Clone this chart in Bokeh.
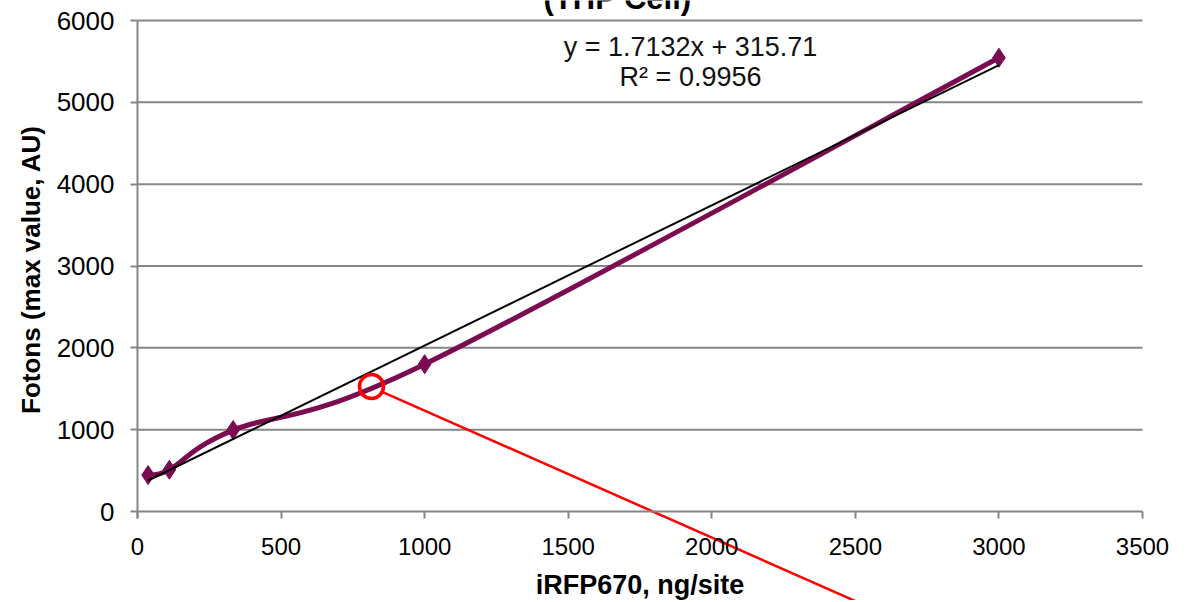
import numpy as np
from bokeh.plotting import figure
from bokeh.models import Label, FixedTicker
from bokeh.embed import file_html
from bokeh.resources import INLINE

# ---- data ----
dose = [37, 111, 333, 1000, 3000]            # iRFP670, ng/site
fotons = [445, 510, 995, 1800, 5545]          # max value, AU
x_ticks = [0, 500, 1000, 1500, 2000, 2500, 3000, 3500]
y_ticks = [0, 1000, 2000, 3000, 4000, 5000, 6000]
trend_slope = 1.7132
trend_intercept = 315.71
eq_lines = ["y = 1.7132x + 315.71", "R² = 0.9956"]
title_text = "(THP Cell)"
x_label = "iRFP670, ng/site"
y_label = "Fotons (max value, AU)"
callout_x = [815]
callout_y = [1527]
callout_line_x = [850, 2511]
callout_line_y = [1466, -1112]

PURPLE = "#7B0C52"
GRID = "#868686"
FONT = "Liberation Sans"

# ---- layout (pixels) ----
W, H = 1190, 600
X_ZERO_PX, X_END_PX = 137, 1142   # canvas columns of x=0 and x=3500
Y_TOP_PX, Y_ZERO_PX = 20, 511     # canvas rows of y=6000 and y=0
XUPP = 3500.0 / (X_END_PX - X_ZERO_PX)
YUPP = 6000.0 / (Y_ZERO_PX - Y_TOP_PX)


def xpix(px):
    return (px - X_ZERO_PX) * XUPP


def ypix(px):
    return 6000 - (px - Y_TOP_PX) * YUPP


# The frame covers the whole canvas; both axes are pinned at 0 so that the
# title, the tick labels and the callout line past the plot area stay visible.
p = figure(width=W, height=H, x_range=(xpix(0), xpix(W)),
           y_range=(ypix(H), ypix(0)),
           output_backend="svg", toolbar_location=None,
           min_border_left=0, min_border_right=0, min_border_top=0,
           min_border_bottom=0)
p.outline_line_color = None
p.background_fill_color = "white"
p.border_fill_color = "white"
p.xgrid.visible = False
p.ygrid.visible = False

for ax in (p.xaxis[0], p.yaxis[0]):
    ax.fixed_location = 0
    ax.axis_line_color = GRID
    ax.axis_line_width = 2
    ax.major_tick_line_color = GRID
    ax.major_tick_line_width = 2
    ax.major_tick_out = 7
    ax.major_tick_in = 0
    ax.minor_tick_line_color = None
    ax.major_label_text_font = FONT
    ax.major_label_text_color = "black"
    ax.axis_label_text_font = FONT
    ax.axis_label_text_font_style = "bold"
    ax.axis_label_text_color = "black"

xax = p.xaxis[0]
xax.ticker = FixedTicker(ticks=x_ticks)
xax.bounds = (0, 3500)
xax.major_label_text_font_size = "24px"
xax.major_label_standoff = 19
xax.axis_label = x_label
xax.axis_label_text_font_size = "27px"
xax.axis_label_standoff = 12

yax = p.yaxis[0]
yax.ticker = FixedTicker(ticks=y_ticks)
yax.bounds = (-7 * YUPP, 6000)
yax.major_label_text_font_size = "26px"
yax.major_label_standoff = 16
yax.axis_label = y_label
yax.axis_label_text_font_size = "26px"
yax.axis_label_standoff = 8

# ---- horizontal gridlines across the plot area ----
gy = y_ticks[1:]
p.segment(x0=[0] * len(gy), y0=gy, x1=[3500] * len(gy), y1=gy,
          line_color=GRID, line_width=2)

# ---- smoothed series (Bezier segments through the data points) ----
P = np.column_stack([dose, fotons]).astype(float)
n = len(P)
x0, y0, x1, y1, cx0, cy0, cx1, cy1 = ([] for _ in range(8))
for i in range(n - 1):
    prev = P[max(i - 1, 0)]
    nxt = P[min(i + 2, n - 1)]
    c0 = P[i] + (P[i + 1] - prev) / 6.0
    c1 = P[i + 1] - (nxt - P[i]) / 6.0
    x0.append(P[i][0]); y0.append(P[i][1])
    x1.append(P[i + 1][0]); y1.append(P[i + 1][1])
    cx0.append(c0[0]); cy0.append(c0[1])
    cx1.append(c1[0]); cy1.append(c1[1])
p.bezier(x0=x0, y0=y0, x1=x1, y1=y1, cx0=cx0, cy0=cy0, cx1=cx1, cy1=cy1,
         line_color=PURPLE, line_width=5)
p.scatter(dose, fotons, marker="diamond", size=19, fill_color=PURPLE,
          line_color=PURPLE, line_width=1)

# ---- linear trend line ----
tx = [min(dose), max(dose)]
ty = [trend_slope * v + trend_intercept for v in tx]
p.line(tx, ty, line_color="black", line_width=2)

# ---- equation text ----
p.add_layout(Label(x=1926, y=ypix(31.5), text=eq_lines[0], text_align="center",
                   text_baseline="top", text_font=FONT,
                   text_font_size="27px", text_color="#111111"))
p.add_layout(Label(x=1926, y=ypix(61.5), text=eq_lines[1], text_align="center",
                   text_baseline="top", text_font=FONT,
                   text_font_size="27px", text_color="#111111"))

# ---- title (cut at the top, as in the source) ----
p.add_layout(Label(x=1672, y=ypix(-20), text=title_text, text_align="center",
                   text_baseline="top", text_font=FONT,
                   text_font_style="bold", text_font_size="31px",
                   text_color="black"))

# ---- red callout ----
p.scatter(callout_x, callout_y, marker="circle", size=24, fill_alpha=0,
          line_color="red", line_width=3.5)
p.line(callout_line_x, callout_line_y, line_color="red", line_width=2.5)

open("out.html", "w").write(file_html(p, INLINE))
